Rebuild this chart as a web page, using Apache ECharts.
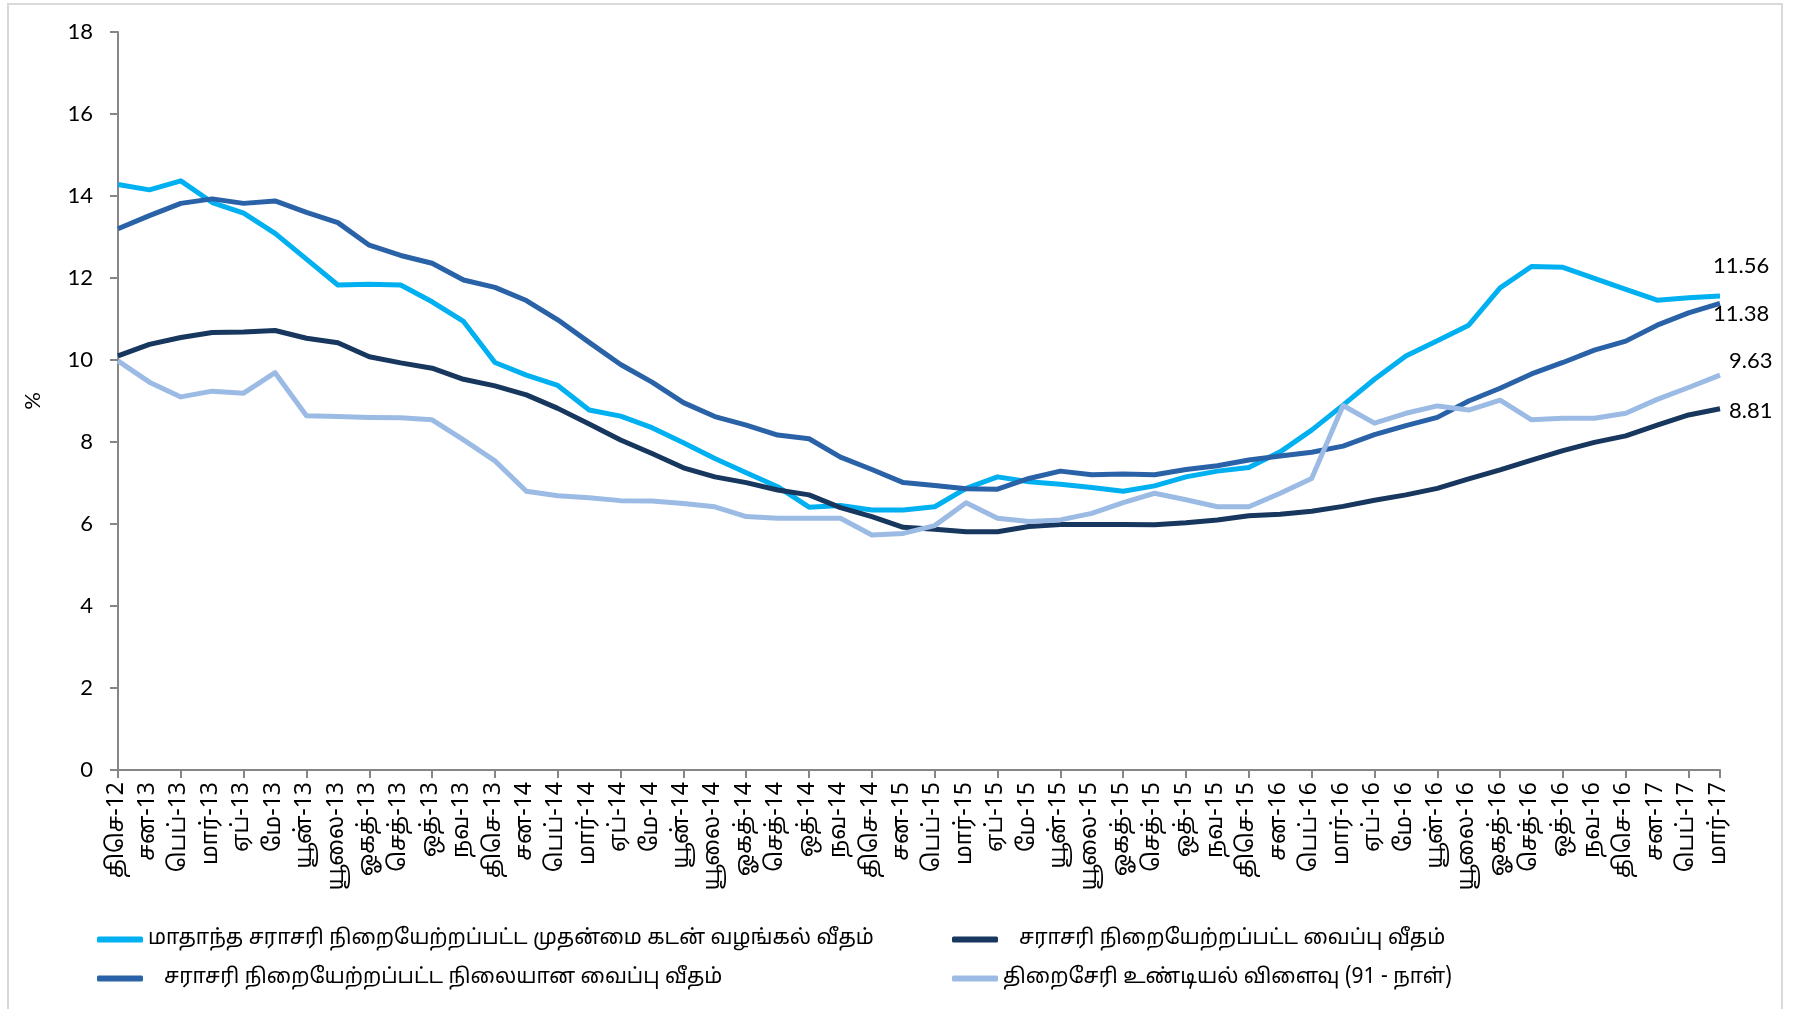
<!DOCTYPE html>
<html>
<head>
<meta charset="utf-8">
<script src="https://cdn.jsdelivr.net/npm/echarts@6/dist/echarts.min.js"></script>
<style>
html,body{margin:0;padding:0;background:#fff;}
#chart{width:1794px;height:1009px;}
</style>
</head>
<body>
<div id="chart"></div>
<script>
const categories = [
 'திசெ-12',
 'சன-13','பெப்-13','மார்-13','ஏப்-13','மே-13','யூன்-13','யூலை-13','ஓகத்-13','செத்-13','ஒத்-13','நவ-13','திசெ-13',
 'சன-14','பெப்-14','மார்-14','ஏப்-14','மே-14','யூன்-14','யூலை-14','ஓகத்-14','செத்-14','ஒத்-14','நவ-14','திசெ-14',
 'சன-15','பெப்-15','மார்-15','ஏப்-15','மே-15','யூன்-15','யூலை-15','ஓகத்-15','செத்-15','ஒத்-15','நவ-15','திசெ-15',
 'சன-16','பெப்-16','மார்-16','ஏப்-16','மே-16','யூன்-16','யூலை-16','ஓகத்-16','செத்-16','ஒத்-16','நவ-16','திசெ-16',
 'சன-17','பெப்-17','மார்-17'
];

const seriesNames = [
 'மாதாந்த சராசரி நிறையேற்றப்பட்ட முதன்மை கடன் வழங்கல் வீதம்',
 'சராசரி நிறையேற்றப்பட்ட வைப்பு வீதம்',
 'சராசரி நிறையேற்றப்பட்ட நிலையான வைப்பு வீதம்',
 'திறைசேரி உண்டியல் விளைவு (91 - நாள்)'
];

const awprMonthly = [14.28,14.15,14.37,13.84,13.58,13.09,12.46,11.83,11.85,11.83,11.42,10.94,9.94,
 9.63,9.38,8.78,8.63,8.35,7.98,7.60,7.25,6.91,6.41,6.45,6.34,
 6.34,6.42,6.87,7.15,7.03,6.97,6.89,6.80,6.93,7.15,7.29,7.38,
 7.76,8.29,8.90,9.53,10.10,10.47,10.85,11.76,12.28,12.26,11.99,11.72,
 11.46,11.52,11.56];

const awdr = [10.10,10.38,10.55,10.67,10.68,10.72,10.53,10.42,10.08,9.93,9.80,9.53,9.37,
 9.15,8.82,8.44,8.05,7.72,7.37,7.15,7.01,6.83,6.71,6.40,6.18,
 5.92,5.87,5.81,5.81,5.94,5.99,5.99,5.99,5.98,6.03,6.10,6.20,
 6.24,6.31,6.43,6.58,6.71,6.87,7.10,7.32,7.56,7.79,7.99,8.15,
 8.41,8.66,8.81];

const awfdr = [13.20,13.52,13.82,13.93,13.82,13.88,13.60,13.35,12.80,12.55,12.36,11.95,11.77,
 11.45,10.98,10.43,9.89,9.46,8.96,8.62,8.41,8.17,8.08,7.63,7.33,
 7.01,6.94,6.86,6.85,7.11,7.29,7.20,7.22,7.20,7.33,7.42,7.56,
 7.66,7.75,7.90,8.18,8.40,8.60,9.00,9.31,9.66,9.94,10.24,10.46,
 10.85,11.15,11.38];

const tbill91 = [9.98,9.46,9.10,9.24,9.19,9.69,8.64,8.62,8.60,8.59,8.54,8.05,7.54,
 6.80,6.69,6.64,6.57,6.56,6.50,6.42,6.18,6.14,6.14,6.14,5.73,
 5.77,5.96,6.52,6.14,6.06,6.10,6.26,6.52,6.75,6.59,6.42,6.42,
 6.75,7.11,8.89,8.46,8.70,8.88,8.78,9.02,8.54,8.58,8.58,8.70,
 9.04,9.33,9.63];

const yTicks = {min: 0, max: 18, interval: 2};

const colors = ['#00B0F0', '#17375E', '#2A62A8', '#9BBBE5'];
const tamilFont = '"Noto Sans Tamil", "Latha", "Noto Sans", "DejaVu Sans", sans-serif';
const numFont = 'Lato, "Open Sans", sans-serif';

const endOffsets = [[-7, -30], [9, 2], [-7, 10], [9, -14]];
const allData = [awprMonthly, awdr, awfdr, tbill91];
const legendTextPad = [0, 16, 16, 0];

const legendItem = k => ({name: seriesNames[k], textStyle: {padding: [0, 0, 0, legendTextPad[k]]}});

const chart = echarts.init(document.getElementById('chart'));
chart.setOption({
  animation: false,
  backgroundColor: '#ffffff',
  graphic: [{
    type: 'rect',
    shape: {x: 8, y: 4, width: 1774, height: 1010},
    style: {fill: 'none', stroke: '#D9D9D9', lineWidth: 2},
    silent: true, z: -1
  }],
  grid: {left: 118, top: 32, right: 74, bottom: 239, containLabel: false},
  xAxis: {
    type: 'category',
    data: categories,
    boundaryGap: false,
    axisLine: {lineStyle: {color: '#868686', width: 2}},
    axisTick: {show: true, interval: 1, length: 8, lineStyle: {color: '#868686', width: 2}},
    axisLabel: {interval: 0, rotate: 90, margin: 12, fontSize: 23, color: '#000', fontFamily: tamilFont},
    splitLine: {show: false}
  },
  yAxis: {
    type: 'value',
    min: yTicks.min, max: yTicks.max, interval: yTicks.interval,
    name: '%', nameLocation: 'middle', nameRotate: 90, nameGap: 74,
    nameTextStyle: {fontSize: 22, color: '#000', fontFamily: numFont},
    axisLine: {show: true, lineStyle: {color: '#868686', width: 2}},
    axisTick: {show: true, length: 8, lineStyle: {color: '#868686', width: 2}},
    axisLabel: {fontSize: 22, color: '#000', margin: 25, fontFamily: numFont},
    splitLine: {show: false}
  },
  legend: [
    {
      left: 92, top: 924, orient: 'vertical', itemGap: 18,
      itemWidth: 46, itemHeight: 6, icon: 'roundRect',
      data: [legendItem(0), legendItem(2)],
      textStyle: {fontSize: 21, color: '#000', fontFamily: tamilFont}
    },
    {
      left: 947, top: 924, orient: 'vertical', itemGap: 18,
      itemWidth: 46, itemHeight: 6, icon: 'roundRect',
      data: [legendItem(1), legendItem(3)],
      textStyle: {fontSize: 21, color: '#000', fontFamily: tamilFont}
    }
  ],
  series: allData.map((arr, k) => ({
    name: seriesNames[k],
    type: 'line',
    data: arr,
    showSymbol: false,
    symbol: 'none',
    color: colors[k],
    lineStyle: {width: 5, color: colors[k], join: 'round'},
    z: 2 + k,
    endLabel: {
      show: true,
      distance: 0,
      offset: endOffsets[k],
      formatter: p => Number(p.value).toFixed(2),
      fontSize: 22, color: '#000', fontFamily: numFont
    }
  }))
});
</script>
</body>
</html>
